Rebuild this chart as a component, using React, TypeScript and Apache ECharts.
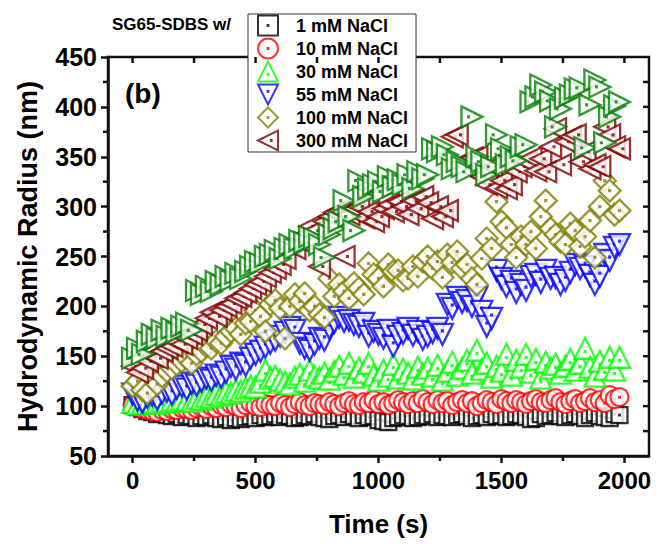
import React, { useEffect, useRef } from 'react';
import * as echarts from 'echarts';

// ---- data ----
const times = [
  0, 20, 40, 60, 80, 100, 120, 140, 160, 180, 200, 220, 240, 260, 280, 300, 320, 340, 360, 380,
  400, 420, 440, 460, 480, 500, 520, 540, 560, 580, 600, 620, 640, 660, 680, 700, 720, 740, 760, 780,
  800, 820, 840, 860, 880, 900, 920, 940, 960, 980, 1000, 1020, 1040, 1060, 1080, 1100, 1120, 1140, 1160, 1180,
  1200, 1220, 1240, 1260, 1280, 1300, 1320, 1340, 1360, 1380, 1400, 1420, 1440, 1460, 1480, 1500, 1520, 1540, 1560, 1580,
  1600, 1620, 1640, 1660, 1680, 1700, 1720, 1740, 1760, 1780, 1800, 1820, 1840, 1860, 1880, 1900, 1920, 1940, 1960, 1980,
];

const nacl1 = [
  101, 99, 97, 95, 94, 92, 93, 91, 90, 92, 89, 91, 90, 88, 90, 89, 91, 88, 87, 89,
  86, 88, 87, 89, 90, 88, 91, 89, 90, 92, 89, 91, 90, 88, 89, 91, 90, 92, 89, 88,
  87, 90, 91, 89, 92, 90, 88, 91, 89, 90, 86, 85, 84, 88, 89, 91, 90, 88, 89, 91,
  90, 92, 89, 91, 90, 89, 91, 92, 90, 88, 90, 91, 89, 92, 90, 91, 89, 90, 92, 91,
  89, 87, 88, 92, 90, 91, 93, 90, 89, 91, 92, 90, 88, 91, 93, 90, 89, 88, 92, 91,
];

const nacl10 = [
  101, 99, 97, 96, 95, 94, 96, 95, 97, 96, 98, 97, 96, 98, 99, 97, 100, 98, 101, 99,
  102, 100, 98, 101, 103, 100, 99, 102, 101, 100, 103, 101, 99, 102, 104, 101, 100, 103, 102, 101,
  104, 102, 100, 103, 105, 102, 101, 104, 103, 106, 102, 104, 101, 103, 106, 104, 102, 105, 103, 107,
  104, 102, 106, 103, 105, 101, 104, 106, 103, 105, 100, 103, 106, 104, 102, 107, 105, 103, 106, 104,
  102, 105, 107, 104, 103, 106, 108, 104, 102, 105, 107, 103, 105, 108, 104, 106, 103, 111, 107, 109,
];

const nacl30 = [
  104, 102, 103, 106, 104, 103, 105, 104, 106, 105, 107, 106, 105, 108, 107, 110, 109, 112, 111, 114,
  113, 116, 115, 118, 120, 119, 124, 136, 128, 130, 126, 124, 122, 129, 132, 125, 136, 130, 128, 133,
  127, 135, 140, 132, 143, 129, 138, 134, 143, 131, 126, 136, 130, 142, 128, 137, 133, 127, 139, 132,
  138, 130, 141, 126, 135, 144, 131, 138, 146, 133, 156, 137, 143, 129, 140, 135, 152, 131, 146, 139,
  152, 134, 147, 128, 144, 138, 142, 133, 140, 147, 136, 143, 158, 139, 130, 145, 137, 149, 136, 149,
];

const nacl55 = [
  112, 106, 104, 109, 111, 107, 113, 115, 112, 118, 120, 117, 123, 121, 125, 128, 126, 131, 129, 134,
  140, 137, 143, 141, 148, 152, 155, 159, 163, 166, 170, 174, 179, 176, 163, 158, 156, 162, 168, 166,
  178, 184, 189, 185, 186, 182, 180, 183, 170, 175, 172, 168, 176, 160, 170, 173, 178, 171, 175, 167,
  170, 174, 178, 172, 202, 198, 209, 204, 206, 200, 209, 195, 180, 188, 236, 228, 220, 225, 214, 222,
  216, 230, 232, 224, 236, 228, 229, 222, 226, 234, 242, 238, 240, 231, 222, 230, 252, 246, 259, 262,
];

const nacl100 = [
  120, 125, 116, 113, 128, 122, 130, 135, 138, 142, 145, 148, 143, 152, 155, 160, 158, 165, 163, 170,
  175, 178, 172, 183, 185, 196, 190, 175, 202, 206, 198, 168, 200, 212, 205, 213, 196, 200, 192, 189,
  228, 210, 222, 215, 208, 223, 218, 212, 243, 232, 228, 220, 242, 235, 236, 226, 228, 240, 230, 245,
  250, 238, 245, 229, 252, 244, 255, 238, 242, 228, 222, 248, 268, 258, 305, 285, 279, 262, 249, 270,
  262, 275, 258, 290, 306, 278, 272, 265, 262, 283, 276, 260, 270, 286, 249, 300, 326, 316, 292, 296,
];

const nacl300 = [
  140, 134, 138, 145, 150, 148, 155, 158, 160, 164, 162, 168, 172, 176, 182, 188, 194, 190, 196, 200,
  203, 208, 210, 214, 218, 222, 225, 230, 234, 238, 242, 248, 262, 258, 265, 272, 280, 276, 240, 285,
  290, 294, 296, 250, 292, 298, 300, 289, 295, 285, 290, 298, 302, 295, 305, 300, 292, 306, 298, 310,
  304, 288, 300, 290, 296, 370, 372, 345, 338, 349, 350, 330, 322, 340, 319, 326, 318, 322, 335, 340,
  345, 349, 336, 348, 335, 360, 378, 342, 365, 370, 372, 345, 355, 338, 342, 340, 380, 372, 360, 358,
];

// dark-green right-pointing triangles: plotted in the reference but not named in its legend
const unlabeled = [
  148, 158, 152, 165, 172, 168, 176, 170, 178, 174, 180, 183, 176, 216, 212, 220, 215, 225, 222, 230,
  226, 233, 228, 235, 240, 245, 243, 250, 252, 256, 248, 258, 262, 258, 266, 264, 270, 268, 262, 249,
  272, 278, 285, 306, 290, 276, 326, 310, 318, 322, 325, 315, 330, 320, 327, 322, 332, 318, 335, 328,
  332, 358, 355, 360, 352, 338, 345, 340, 335, 390, 350, 345, 332, 340, 372, 358, 342, 350, 346, 360,
  362, 405, 410, 422, 415, 406, 380, 398, 409, 412, 418, 419, 359, 402, 427, 420, 364, 390, 401, 405,
];

const legendNames = ['1 mM NaCl', '10 mM NaCl', '30 mM NaCl', '55 mM NaCl', '100 mM NaCl', '300 mM NaCl'];
const xLabelValues = [0, 500, 1000, 1500, 2000];
const xMinorValues = [250, 750, 1250, 1750];
const xTopTickValues = [0, 250, 500, 750, 1000, 1250, 1500, 1750, 2000];
const yMinorValues = [75, 125, 175, 225, 275, 325, 375, 425];
const yRightTickValues = [75, 100, 125, 150, 175, 200, 225, 250, 275, 300, 325, 350, 375, 400, 425];

const FONT = '"Liberation Sans", Arial, Helvetica, sans-serif';
const INK = '#111111';

const dot = (cx: number, cy: number) =>
  ` M${cx - 2},${cy - 2} L${cx + 2},${cy - 2} L${cx + 2},${cy + 2} L${cx - 2},${cy + 2} Z`;

const SYM = {
  square: 'path://M0,0 L100,0 L100,100 L0,100 Z' + dot(50, 50),
  circle: 'path://M0,50 A50,50 0 1,1 100,50 A50,50 0 1,1 0,50 Z' + dot(50, 50),
  up: 'path://M50,0 L100,100 L0,100 Z' + dot(50, 66),
  down: 'path://M0,0 L100,0 L50,100 Z' + dot(50, 34),
  diamond: 'path://M50,0 L100,50 L50,100 L0,50 Z' + dot(50, 50),
  left: 'path://M0,50 L100,0 L100,100 Z' + dot(66, 50),
  right: 'path://M0,0 L100,50 L0,100 Z' + dot(34, 50),
};

const seriesDefs = [
  { name: legendNames[0], values: nacl1, symbol: SYM.square, size: 16, color: '#000000' },
  { name: legendNames[1], values: nacl10, symbol: SYM.circle, size: 18, color: '#ff0000' },
  { name: legendNames[2], values: nacl30, symbol: SYM.up, size: 21, color: '#00ff00' },
  { name: legendNames[3], values: nacl55, symbol: SYM.down, size: 21, color: '#0000ff' },
  { name: legendNames[4], values: nacl100, symbol: SYM.diamond, size: 22, color: '#808000' },
  { name: legendNames[5], values: nacl300, symbol: SYM.left, size: 21, color: '#800000' },
  { name: 'unlabeled', values: unlabeled, symbol: SYM.right, size: 21, color: '#008000' },
];

const textGraphics = [
  {
    type: 'text', left: 112, top: 16,
    style: { text: 'SG65-SDBS w/', font: `bold 17px ${FONT}`, fill: '#000' },
  },
  {
    type: 'text', left: 125, top: 79,
    style: { text: '(b)', font: `bold 28px ${FONT}`, fill: '#000' },
  },
];

export default function App() {
  const ref = useRef<HTMLDivElement>(null);
  useEffect(() => {
    if (!ref.current) return;
    const chart = echarts.init(ref.current, null, { renderer: 'svg' });
    const option: any = {
      animation: false,
      backgroundColor: '#fff',
      textStyle: { fontFamily: FONT },
      grid: { left: 108, right: 9, top: 57, bottom: 88, show: true, borderColor: INK, borderWidth: 2.5 },
      xAxis: [
        {
          type: 'value', min: -100, max: 2100, position: 'bottom',
          axisLine: { show: true, onZero: false, lineStyle: { color: INK, width: 2.5 } },
          axisTick: { show: true, inside: false, length: 7, lineStyle: { color: INK, width: 2.5 }, customValues: xLabelValues },
          axisLabel: {
            show: true, customValues: xLabelValues, margin: 12, fontSize: 24, fontWeight: 'bold',
            color: '#000', fontFamily: FONT, formatter: (v: number) => String(v),
          },
          splitLine: { show: false },
          name: 'Time (s)', nameLocation: 'middle', nameGap: 55,
          nameTextStyle: { fontSize: 26, fontWeight: 'bold', color: '#000', fontFamily: FONT },
        },
      ],
      yAxis: [
        {
          type: 'value', min: 50, max: 450, interval: 50, position: 'left',
          axisLine: { show: true, onZero: false, lineStyle: { color: INK, width: 2.5 } },
          axisTick: { show: true, inside: false, length: 7, lineStyle: { color: INK, width: 2.5 } },
          axisLabel: { margin: 11, fontSize: 25, fontWeight: 'bold', color: '#000', fontFamily: FONT },
          splitLine: { show: false },
          name: 'Hydrodynamic Radius (nm)', nameLocation: 'middle', nameGap: 67,
          nameTextStyle: { fontSize: 27, fontWeight: 'bold', color: '#000', fontFamily: FONT },
        },
      ],
      legend: {
        show: true, data: legendNames, orient: 'vertical', left: 248, top: 14,
        itemWidth: 46, itemHeight: 20, itemGap: 0, padding: [0, 8, 0, 9],
        borderColor: '#333', borderWidth: 1, backgroundColor: '#fff',
        selectedMode: false,
        textStyle: { fontSize: 18, lineHeight: 23, fontWeight: 'bold', color: '#000', fontFamily: FONT },
      },
      graphic: { elements: textGraphics },
      series: seriesDefs.map((s) => ({
        type: 'scatter',
        name: s.name,
        data: times.map((t, i) => [t, s.values[i]]),
        symbol: s.symbol,
        symbolSize: s.size,
        symbolKeepAspect: true,
        itemStyle: { color: '#ffffff', borderColor: s.color, borderWidth: 2.3 },
      })),
    };
    chart.setOption(option);

    // inward ticks on the top/right edges and minor ticks, placed through the chart's axis scales
    const px = (v: number) => chart.convertToPixel({ xAxisIndex: 0 }, v) as number;
    const py = (v: number) => chart.convertToPixel({ yAxisIndex: 0 }, v) as number;
    const x0 = px(-100), x1 = px(2100), yTop = py(450), yBot = py(50);
    const els: any[] = [];
    const tick = (xa: number, ya: number, xb: number, yb: number) =>
      els.push({ type: 'line', z: 60, shape: { x1: xa, y1: ya, x2: xb, y2: yb }, style: { stroke: INK, lineWidth: 2.5 } });
    if (isFinite(x0) && isFinite(yTop)) {
      xMinorValues.forEach((v) => tick(px(v), yBot, px(v), yBot + 5));
      xTopTickValues.forEach((v) => tick(px(v), yTop, px(v), yTop + 6));
      yMinorValues.forEach((v) => tick(x0 - 5, py(v), x0, py(v)));
      yRightTickValues.forEach((v) => tick(x1 - 6, py(v), x1, py(v)));
      chart.setOption({ graphic: { elements: [...textGraphics, ...els] } });
    }

    return () => chart.dispose();
  }, []);
  return (
    <div>
      <div ref={ref} style={{ position: 'fixed', left: 0, top: 0, width: 658, height: 544 }} />
    </div>
  );
}
